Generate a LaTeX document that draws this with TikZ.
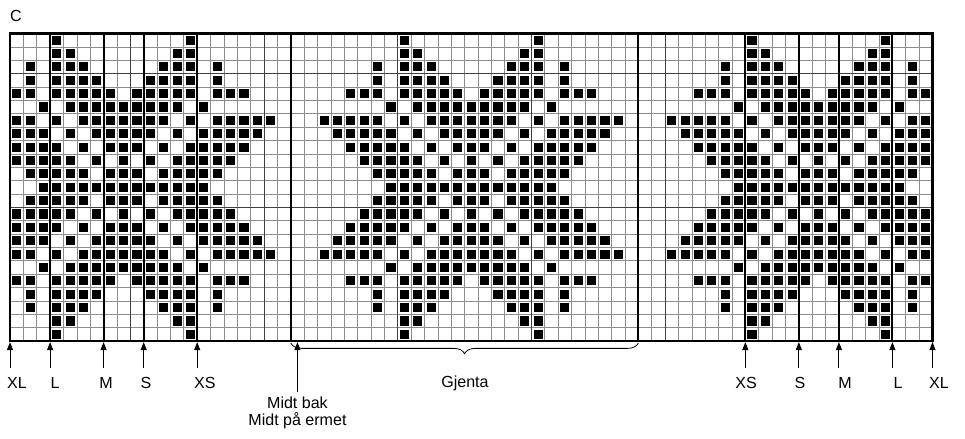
\documentclass[tikz,border=0pt]{standalone}
\usepackage{fontspec}
\setmainfont{Liberation Sans}
\usepackage{tikz}
\usetikzlibrary{arrows, arrows.meta, decorations.pathreplacing}

\tikzset{
  rute/.style={draw=black!45, line width=0.5pt},
  tier/.style={draw=black!75, line width=0.7pt},
  str/.style={line width=1.6pt},
  maske/.style={fill=black},
  pil/.style={-{Triangle[width=4.5pt,length=6pt]}, line width=0.7pt},
  etikett/.style={font=\fontsize{12}{14}\selectfont, inner sep=0pt}
}

\begin{document}
\begin{tikzpicture}[x=10pt, y=10pt]
\useasboundingbox (-0.748,-7.255) rectangle (71.43,25.506);

% rutenett
\foreach \x in {1,...,68} \draw[rute] (\x,0) -- (\x,23);
\foreach \y in {1,...,22} \draw[rute] (0,\y) -- (69,\y);
\foreach \x in {9,19,...,59} \draw[tier] (\x,0) -- (\x,23);
\foreach \y in {10,20} \draw[tier] (0,\y) -- (69,\y);

% masker, stjerne med midte i kolonne 8, 34 og 60
\foreach \rad/\dliste in {0/{5}, 1/{4,5}, 2/{3,4,5,7}, 3/{2,3,4,5,7},
    4/{1,2,3,4,5,7,8,9}, 5/{0,1,2,3,4,6}, 6/{0,1,2,3,5,7,8,9,10,11},
    7/{0,1,2,4,6,7,8,9,10}, 8/{0,1,3,5,6,7,8,9}, 9/{0,2,4,5,6,7,8},
    10/{0,1,3,4,5,6,7}, 11/{0,1,2,3,4,5,6}}
  \foreach \dd in \dliste
    \foreach \sen in {8,34,60}
      \foreach \sg in {-1,1} {
        \pgfmathtruncatemacro{\kol}{\sen+\sg*\dd}
        \ifnum\kol>-1 \ifnum\kol<69
          \fill[maske] (\kol+0.16,22-\rad+0.16) rectangle (\kol+0.84,23-\rad-0.16);
          \fill[maske] (\kol+0.16,\rad+0.16) rectangle (\kol+0.84,\rad+0.84);
        \fi\fi
      }

% storrelseslinjer
\foreach \x in {3,7,10,14,21,47,55,59,62,66} \draw[str] (\x,0) -- (\x,23);
\draw[str] (0,0) rectangle (69,23);

\node[etikett] (diagram) at (0.45,24.31) {C};

% piler
\foreach \x/\n in {0/a,3/b,7/c,10/d,14/e,55/f,59/g,62/h,66/i,69/j} {
  \coordinate (fot\n) at (\x,-2.02);
  \coordinate (topp\n) at (\x,-0.08);
  \draw[pil] (fot\n) -- (topp\n);
}
\coordinate (midtfot) at (21.5,-3.8);
\coordinate (midttopp) at (21.5,-0.08);
\draw[pil] (midtfot) -- (midttopp);

\node[etikett] (xlv) at (0.52,-3.14) {XL};
\node[etikett] (lv) at (3.37,-3.14) {L};
\node[etikett] (mv) at (7.18,-3.14) {M};
\node[etikett] (sv) at (10.17,-3.14) {S};
\node[etikett] (xsv) at (14.58,-3.14) {XS};
\node[etikett] (xsh) at (55.05,-3.14) {XS};
\node[etikett] (sh) at (59.09,-3.14) {S};
\node[etikett] (mh) at (62.45,-3.14) {M};
\node[etikett] (lh) at (66.42,-3.14) {L};
\node[etikett] (xlh) at (69.48,-3.14) {XL};
\node[etikett] (midtbak) at (21.5,-4.64) {Midt bak};
\node[etikett] (ermet) at (21.5,-5.98) {Midt på ermet};

% rapport
\coordinate (rapstart) at (21,-0.15);
\coordinate (rapslutt) at (47,-0.15);
\draw[decorate, decoration={brace, mirror, amplitude=8pt}, line width=0.6pt] (rapstart) -- (rapslutt);
\node[etikett] (gjenta) at (34.03,-3.14) {Gjenta};
\end{tikzpicture}
\end{document}
